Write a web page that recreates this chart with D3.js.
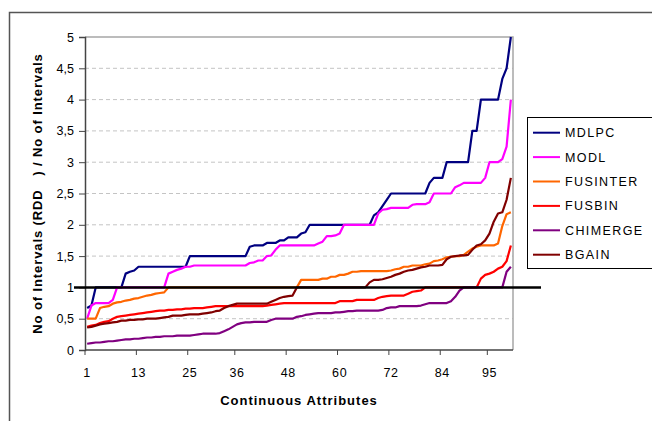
<!DOCTYPE html>
<html>
<head>
<meta charset="utf-8">
<script src="https://cdn.jsdelivr.net/npm/d3@7"></script>
<style>
  html, body { margin: 0; padding: 0; background: #fff; }
  svg { display: block; font-family: "Liberation Sans", Arial, sans-serif; }
</style>
</head>
<body>
<div id="chart"></div>
<script>
// Ratio of intervals per continuous attribute (attributes sorted by ratio)
const seriesNames = ['MDLPC', 'MODL', 'FUSINTER', 'FUSBIN', 'CHIMERGE', 'BGAIN'];
const seriesColors = ['#000080', '#ff00ff', '#ff6600', '#ff0000', '#800080', '#800000'];

const mdlpc = [0.67, 0.71, 1, 1, 1, 1, 1, 1, 1, 1.22,
  1.25, 1.27, 1.33, 1.33, 1.33, 1.33, 1.33, 1.33, 1.33, 1.33,
  1.33, 1.33, 1.33, 1.33, 1.5, 1.5, 1.5, 1.5, 1.5, 1.5,
  1.5, 1.5, 1.5, 1.5, 1.5, 1.5, 1.5, 1.5, 1.65, 1.67,
  1.67, 1.67, 1.71, 1.71, 1.71, 1.75, 1.75, 1.8, 1.8, 1.8,
  1.86, 1.88, 2, 2, 2, 2, 2, 2, 2, 2,
  2, 2, 2, 2, 2, 2, 2, 2.15, 2.2, 2.3,
  2.4, 2.5, 2.5, 2.5, 2.5, 2.5, 2.5, 2.5, 2.5, 2.5,
  2.67, 2.75, 2.75, 2.75, 3, 3, 3, 3, 3, 3,
  3.5, 3.5, 4, 4, 4, 4, 4, 4.33, 4.5, 5];

const modl = [0.5, 0.71, 0.75, 0.75, 0.75, 0.75, 0.8, 1, 1, 1,
  1, 1, 1, 1, 1, 1, 1, 1, 1, 1.22,
  1.25, 1.28, 1.3, 1.33, 1.33, 1.35, 1.35, 1.35, 1.35, 1.35,
  1.35, 1.35, 1.35, 1.35, 1.35, 1.35, 1.35, 1.35, 1.39, 1.4,
  1.43, 1.43, 1.5, 1.51, 1.6, 1.67, 1.67, 1.67, 1.67, 1.67,
  1.67, 1.67, 1.67, 1.67, 1.7, 1.73, 1.82, 1.82, 1.83, 1.86,
  2, 2, 2, 2, 2, 2, 2, 2, 2.18, 2.24,
  2.25, 2.27, 2.27, 2.27, 2.27, 2.27, 2.32, 2.33, 2.33, 2.33,
  2.36, 2.5, 2.5, 2.5, 2.5, 2.5, 2.6, 2.63, 2.67, 2.67,
  2.67, 2.67, 2.67, 2.75, 3, 3, 3, 3.05, 3.25, 4];

const fusinter = [0.5, 0.5, 0.5, 0.67, 0.69, 0.7, 0.74, 0.76, 0.77, 0.79,
  0.8, 0.82, 0.83, 0.85, 0.87, 0.88, 0.9, 0.91, 0.92, 1,
  1, 1, 1, 1, 1, 1, 1, 1, 1, 1,
  1, 1, 1, 1, 1, 1, 1, 1, 1, 1,
  1, 1, 1, 1, 1, 1, 1, 1, 1, 1,
  1.12, 1.12, 1.12, 1.12, 1.12, 1.14, 1.14, 1.17, 1.17, 1.2,
  1.2, 1.22, 1.25, 1.25, 1.26, 1.26, 1.26, 1.26, 1.26, 1.26,
  1.26, 1.27, 1.29, 1.3, 1.33, 1.33, 1.35, 1.35, 1.35, 1.37,
  1.38, 1.42, 1.43, 1.45, 1.48, 1.49, 1.5, 1.5, 1.52, 1.57,
  1.62, 1.65, 1.67, 1.67, 1.67, 1.67, 1.7, 1.98, 2.17, 2.2];

const fusbin = [0.37, 0.39, 0.4, 0.43, 0.45, 0.46, 0.5, 0.53, 0.54, 0.55,
  0.56, 0.57, 0.58, 0.59, 0.6, 0.61, 0.62, 0.63, 0.63, 0.64,
  0.64, 0.65, 0.65, 0.66, 0.66, 0.67, 0.67, 0.67, 0.68, 0.69,
  0.7, 0.7, 0.7, 0.7, 0.7, 0.7, 0.7, 0.7, 0.7, 0.7,
  0.7, 0.7, 0.71, 0.72, 0.73, 0.74, 0.75, 0.75, 0.75, 0.75,
  0.75, 0.75, 0.75, 0.75, 0.75, 0.75, 0.75, 0.75, 0.75, 0.78,
  0.78, 0.78, 0.78, 0.8, 0.8, 0.8, 0.8, 0.8, 0.83, 0.85,
  0.86, 0.87, 0.87, 0.87, 0.87, 0.9, 0.93, 0.94, 0.95, 1,
  1, 1, 1, 1, 1, 1, 1, 1, 1, 1,
  1, 1, 1.14, 1.2, 1.22, 1.25, 1.3, 1.33, 1.42, 1.67];

const chimerge = [0.1, 0.11, 0.12, 0.12, 0.13, 0.14, 0.14, 0.15, 0.16, 0.17,
  0.17, 0.18, 0.18, 0.19, 0.2, 0.2, 0.21, 0.21, 0.22, 0.22,
  0.22, 0.23, 0.23, 0.23, 0.23, 0.24, 0.25, 0.26, 0.26, 0.26,
  0.26, 0.27, 0.3, 0.33, 0.37, 0.41, 0.43, 0.44, 0.44, 0.45,
  0.45, 0.45, 0.45, 0.48, 0.5, 0.5, 0.5, 0.5, 0.5, 0.53,
  0.54, 0.56, 0.57, 0.58, 0.59, 0.59, 0.59, 0.59, 0.6, 0.6,
  0.61, 0.62, 0.62, 0.63, 0.63, 0.63, 0.63, 0.63, 0.63, 0.64,
  0.67, 0.68, 0.68, 0.7, 0.7, 0.7, 0.7, 0.7, 0.71, 0.73,
  0.75, 0.75, 0.75, 0.75, 0.75, 0.78, 0.85, 0.95, 1, 1,
  1, 1, 1, 1, 1, 1, 1, 1, 1.25, 1.33];

const bgain = [0.36, 0.37, 0.39, 0.41, 0.42, 0.43, 0.44, 0.45, 0.47, 0.47,
  0.48, 0.48, 0.49, 0.49, 0.5, 0.5, 0.5, 0.51, 0.52, 0.53,
  0.55, 0.55, 0.55, 0.56, 0.57, 0.57, 0.57, 0.58, 0.59, 0.6,
  0.62, 0.63, 0.67, 0.7, 0.72, 0.74, 0.74, 0.74, 0.74, 0.74,
  0.74, 0.74, 0.74, 0.77, 0.8, 0.83, 0.85, 0.86, 0.87, 1,
  1, 1, 1, 1, 1, 1, 1, 1, 1, 1,
  1, 1, 1, 1, 1, 1, 1.08, 1.12, 1.12, 1.13,
  1.15, 1.17, 1.2, 1.22, 1.25, 1.27, 1.28, 1.3, 1.32, 1.33,
  1.35, 1.35, 1.35, 1.36, 1.45, 1.49, 1.5, 1.51, 1.51, 1.52,
  1.6, 1.67, 1.69, 1.75, 1.86, 2.05, 2.18, 2.2, 2.4, 2.75];

const allSeries = [mdlpc, modl, fusinter, fusbin, chimerge, bgain];

const xTickLabels = [1, 13, 25, 36, 48, 60, 72, 84, 95];
const yTicks = [0, 0.5, 1, 1.5, 2, 2.5, 3, 3.5, 4, 4.5, 5];
const refValue = 1;

const W = 652, H = 421;
const plot = { left: 85, right: 513, top: 37, bottom: 350 };

const svg = d3.select('#chart').append('svg')
  .attr('width', W).attr('height', H);

// outer chart frame (partly out of view)
svg.append('rect')
  .attr('x', 9.5).attr('y', 12.5)
  .attr('width', 700).attr('height', 450)
  .attr('fill', 'none').attr('stroke', '#555').attr('stroke-width', 1.5);

const x = d3.scaleLinear().domain([0.5, 100.5]).range([plot.left, plot.right]);
const y = d3.scaleLinear().domain([0, 5]).range([plot.bottom, plot.top]);

// dashed gridlines
svg.append('g')
  .selectAll('line')
  .data(yTicks.filter(v => v > 0 && v < 5))
  .join('line')
  .attr('x1', plot.left).attr('x2', plot.right)
  .attr('y1', d => y(d)).attr('y2', d => y(d))
  .attr('stroke', '#c4c4c4').attr('stroke-width', 1)
  .attr('stroke-dasharray', '4,3');

// plot area top + right border
svg.append('path')
  .attr('d', `M${plot.left},${plot.top}H${plot.right}V${plot.bottom}`)
  .attr('fill', 'none').attr('stroke', '#a6a6a6').attr('stroke-width', 1.5);

// y axis
const yAxis = d3.axisLeft(y).tickValues(yTicks).tickSize(6).tickPadding(5)
  .tickFormat(d => String(d).replace('.', ','));
const gy = svg.append('g').attr('transform', `translate(${plot.left},0)`).call(yAxis);
gy.select('.domain').attr('stroke', '#444').attr('stroke-width', 1.5);
gy.selectAll('.tick line').attr('stroke', '#444');
gy.selectAll('text').attr('font-size', 12.5).attr('fill', '#000')
  .attr('font-family', '"Liberation Sans", Arial, sans-serif');

// x axis: ticks between categories, labels under categories
svg.append('line')
  .attr('x1', plot.left).attr('x2', plot.right)
  .attr('y1', plot.bottom).attr('y2', plot.bottom)
  .attr('stroke', '#444').attr('stroke-width', 1.5);
svg.append('g').selectAll('line')
  .data(xTickLabels)
  .join('line')
  .attr('x1', d => x(d - 0.5)).attr('x2', d => x(d - 0.5))
  .attr('y1', plot.bottom).attr('y2', plot.bottom + 5)
  .attr('stroke', '#444');
svg.append('g').selectAll('text')
  .data(xTickLabels)
  .join('text')
  .attr('x', d => x(d)).attr('y', plot.bottom + 27)
  .attr('text-anchor', 'middle')
  .attr('font-size', 12.5).attr('letter-spacing', 0.6)
  .text(d => d);

// series lines
const line = d3.line()
  .x((d, i) => x(i + 1))
  .y(d => y(d));

svg.append('g')
  .selectAll('path')
  .data(allSeries)
  .join('path')
  .attr('d', d => line(d))
  .attr('fill', 'none')
  .attr('stroke', (d, i) => seriesColors[i])
  .attr('stroke-width', 2.2)
  .attr('stroke-linejoin', 'round');

// reference line at ratio = 1
svg.append('line')
  .attr('x1', 74).attr('x2', 541)
  .attr('y1', y(refValue)).attr('y2', y(refValue))
  .attr('stroke', '#000').attr('stroke-width', 2.5);

// axis titles
svg.append('text')
  .attr('transform', `translate(42,${(plot.top + plot.bottom) / 2}) rotate(-90)`)
  .attr('text-anchor', 'middle')
  .attr('font-size', 13).attr('font-weight', 'bold').attr('letter-spacing', 0.9)
  .style('white-space', 'pre')
  .text('No of Intervals (RDD   ) / No of Intervals');

svg.append('text')
  .attr('x', 299).attr('y', 405)
  .attr('text-anchor', 'middle')
  .attr('font-size', 13).attr('font-weight', 'bold').attr('letter-spacing', 1)
  .text('Continuous Attributes');

// legend
const lg = svg.append('g');
lg.append('rect')
  .attr('x', 527.5).attr('y', 117.5)
  .attr('width', 140).attr('height', 151)
  .attr('fill', '#fff').attr('stroke', '#000').attr('stroke-width', 1);

const items = lg.selectAll('g.item')
  .data(seriesNames)
  .join('g')
  .attr('class', 'item')
  .attr('transform', (d, i) => `translate(0,${132.7 + i * 24.4})`);
items.append('line')
  .attr('x1', 533).attr('x2', 560)
  .attr('stroke', (d, i) => seriesColors[i]).attr('stroke-width', 2);
items.append('text')
  .attr('x', 565).attr('y', 4.5)
  .attr('font-size', 12.5).attr('letter-spacing', 1.4)
  .text(d => d);
</script>
</body>
</html>
